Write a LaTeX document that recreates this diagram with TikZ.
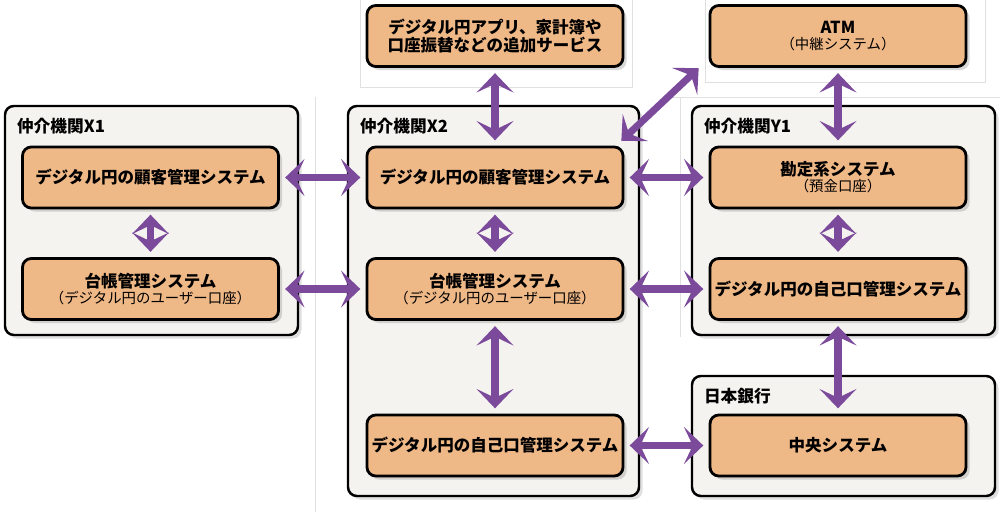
\documentclass[tikz,border=0pt]{standalone}
\usepackage{fontspec}
\setmainfont{Noto Sans CJK JP}
\usetikzlibrary{arrows.meta,shadows,positioning}
\definecolor{boxfill}{HTML}{EFB887}
\definecolor{orgfill}{HTML}{F5F3EF}
\definecolor{arrowc}{HTML}{7B4A9B}
\tikzset{
  org/.style={draw, line width=1.4pt, rounded corners=5pt, fill=orgfill,
    drop shadow={opacity=0.25,shadow xshift=2pt,shadow yshift=-2pt}},
  sys/.style={draw, line width=1.6pt, rounded corners=5pt, fill=boxfill,
    minimum width=5.12cm, minimum height=1.22cm, align=center, inner xsep=1pt,
    font=\fontsize{9.4}{12}\selectfont\bfseries,
    drop shadow={opacity=0.3,shadow xshift=2pt,shadow yshift=-2pt}},
  orglabel/.style={font=\fontsize{9.5}{11}\selectfont\bfseries, anchor=north west},
  link/.style={{Stealth[length=11pt,width=21pt,inset=5pt]}-{Stealth[length=11pt,width=21pt,inset=5pt]},
    draw=arrowc, line width=4pt, shorten >=3pt, shorten <=3pt}
}
\newcommand{\sub}[1]{\\[-3pt]{\fontsize{8.2}{10}\selectfont\mdseries #1}}
\begin{document}
\begin{tikzpicture}
\useasboundingbox (0,0) rectangle (20,10.24);

% faint frames
\draw[black!12] (7.2,10.3) -- (7.2,8.5) -- (12.65,8.5) -- (12.65,10.3);
\draw[black!12] (14.1,10.3) -- (14.1,8.6) -- (19.7,8.6) -- (19.7,10.3);
\draw[black!12] (6.3,8.3) -- (6.3,0);
\draw[black!12] (13.6,8.3) -- (13.6,3.5);
\draw[black!12] (13.3,8.3) -- (20,8.3);

% organisations
\node (x1) [org, minimum width=5.86cm, minimum height=4.58cm] at (3.03,5.83) {};
\node (x2) [org, minimum width=5.82cm, minimum height=7.8cm] at (9.87,4.22) {};
\node (y1) [org, minimum width=6.06cm, minimum height=4.58cm] at (16.87,5.83) {};
\node (boj) [org, minimum width=6.06cm, minimum height=2.4cm] at (16.87,1.52) {};

\node [orglabel] at ([xshift=4pt,yshift=-4pt]x1.north west) {仲介機関X1};
\node [orglabel] at ([xshift=4pt,yshift=-4pt]x2.north west) {仲介機関X2};
\node [orglabel] at ([xshift=4pt,yshift=-4pt]y1.north west) {仲介機関Y1};
\node [orglabel] at ([xshift=4pt,yshift=-4pt]boj.north west) {日本銀行};

% systems
\node (app) [sys] at (9.9,9.52) {デジタル円アプリ、家計簿や\\[-2pt]口座振替などの追加サービス};
\node (atm) [sys] at (16.76,9.52) {ATM\sub{（中継システム）}};

\node (x1cust) [sys] at (3.01,6.69) {デジタル円の顧客管理システム};
\node (x1led) [sys] at (3.01,4.46) {台帳管理システム\sub{（デジタル円のユーザー口座）}};

\node (x2cust) [sys] at (9.9,6.69) {デジタル円の顧客管理システム};
\node (x2led) [sys] at (9.9,4.46) {台帳管理システム\sub{（デジタル円のユーザー口座）}};
\node (x2own) [sys] at (9.9,1.33) {デジタル円の自己口管理システム};

\node (y1acc) [sys] at (16.76,6.69) {勘定系システム\sub{（預金口座）}};
\node (y1own) [sys] at (16.76,4.46) {デジタル円の自己口管理システム};

\node (central) [sys] at (16.76,1.33) {中央システム};

% links
\draw [link] (x1cust) -- (x1led);
\draw [link] (x1cust) -- (x2cust);
\draw [link] (x1led) -- (x2led);
\draw [link] (app) -- (x2cust);
\draw [link] (x2cust) -- (x2led);
\draw [link] (x2led) -- (x2own);
\draw [link] (x2cust) -- (y1acc);
\draw [link] (x2led) -- (y1own);
\draw [link] (x2own) -- (central);
\draw [link] (atm) -- (y1acc);
\draw [link] (y1acc) -- (y1own);
\draw [link] (y1own) -- (central);
\coordinate (atmend) at (14.05,8.95);
\coordinate (x2end) at (12.35,7.35);
\draw [link] (atmend) -- (x2end);
\end{tikzpicture}
\end{document}
